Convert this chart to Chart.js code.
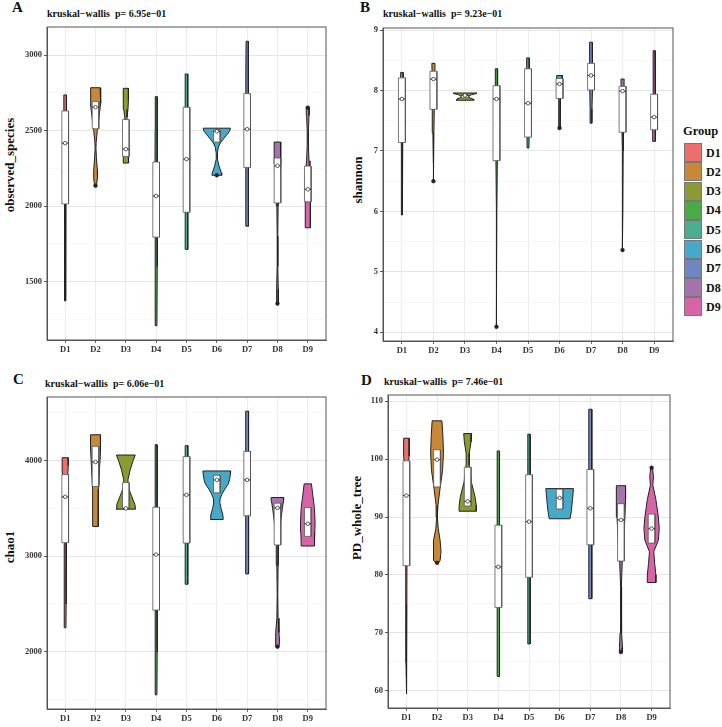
<!DOCTYPE html>
<html>
<head>
<meta charset="utf-8">
<script src="https://cdn.jsdelivr.net/npm/chart.js@4.4.1/dist/chart.umd.min.js"></script>
<style>
  body { margin: 0; background: #fff; width: 722px; height: 727px; position: relative; overflow: hidden; font-family: 'Liberation Serif', serif; color: #111; }
  canvas { position: absolute; }
  .tag { position: absolute; font-weight: bold; font-size: 15px; line-height: 1; }
  .kw { position: absolute; font-weight: bold; font-size: 10px; line-height: 1; white-space: pre; }
  .ytitle { position: absolute; font-weight: bold; font-size: 13px; line-height: 1; white-space: nowrap; transform: translate(-50%, -50%) rotate(-90deg); }
  .leg { position: absolute; font-weight: bold; line-height: 1; }
  .sw { position: absolute; width: 16px; height: 17px; border: 1px solid #777; }
</style>
</head>
<body>

<div class="tag" style="left:12px; top:0px">A</div>
<div class="tag" style="left:360px; top:0px">B</div>
<div class="tag" style="left:13px; top:372px">C</div>
<div class="tag" style="left:361px; top:373px">D</div>

<div class="kw" style="left:47px; top:9px">kruskal−wallis  p= 6.95e−01</div>
<div class="kw" style="left:383px; top:9px">kruskal−wallis  p= 9.23e−01</div>
<div class="kw" style="left:45px; top:379px">kruskal−wallis  p= 6.06e−01</div>
<div class="kw" style="left:384px; top:377px">kruskal−wallis  p= 7.46e−01</div>

<div class="ytitle" style="left:9px; top:165px">observed_species</div>
<div class="ytitle" style="left:357px; top:180px">shannon</div>
<div class="ytitle" style="left:9px; top:547px">chao1</div>
<div class="ytitle" style="left:356px; top:518px">PD_whole_tree</div>

<div id="legenda"></div>

<canvas id="cA"></canvas>
<canvas id="cB"></canvas>
<canvas id="cC"></canvas>
<canvas id="cD"></canvas>

<script>
// Gruppi e colori
const groups = ['D1', 'D2', 'D3', 'D4', 'D5', 'D6', 'D7', 'D8', 'D9'];
const colors = ['#EC6F6C', '#C98837', '#8B9A33', '#4BAA48', '#4AAE8E', '#47A9C8', '#6F87C1', '#A374AC', '#D864A8'];

// ---- A: observed_species ----
const obsQ1  = [2014, 2512, 2329, 1794, 1959, 2424, 2256, 2021, 2028];
const obsMed = [2417, 2655, 2377, 2067, 2311, 2495, 2509, 2267, 2111];
const obsQ3  = [2630, 2692, 2573, 2292, 2655, 2505, 2745, 2318, 2265];
const obsOut = [[2, 2135], [6, 2204], [8, 1354], [9, 2652]];
const obsTicks = [1500, 2000, 2500, 3000];
// profili dei violini: [valore, semi-larghezza]
const obsViolin = [
  [[2736, 0.045], [2650, 0.045], [2500, 0.035], [2300, 0.025], [2100, 0.02], [1900, 0.016], [1600, 0.014], [1372, 0.012]],
  [[2784, 0.15], [2740, 0.17], [2680, 0.17], [2600, 0.12], [2500, 0.06], [2420, 0.02], [2380, 0.015], [2320, 0.03], [2240, 0.06], [2190, 0.065], [2150, 0.04], [2135, 0.02]],
  [[2780, 0.085], [2700, 0.085], [2640, 0.07], [2590, 0.04], [2500, 0.03], [2420, 0.05], [2340, 0.085], [2285, 0.09]],
  [[2725, 0.03], [2500, 0.035], [2200, 0.04], [1900, 0.035], [1600, 0.03], [1207, 0.025]],
  [[2875, 0.04], [2600, 0.045], [2300, 0.045], [2000, 0.045], [1800, 0.04], [1713, 0.035]],
  [[2516, 0.45], [2495, 0.42], [2470, 0.32], [2440, 0.2], [2420, 0.12], [2390, 0.05], [2350, 0.02], [2310, 0.02], [2260, 0.08], [2220, 0.15], [2204, 0.16]],
  [[3092, 0.035], [2900, 0.04], [2700, 0.045], [2400, 0.045], [2100, 0.045], [1867, 0.04]],
  [[2424, 0.11], [2350, 0.11], [2280, 0.1], [2200, 0.07], [2100, 0.04], [2000, 0.02], [1800, 0.01], [1600, 0.012], [1450, 0.025], [1380, 0.03], [1354, 0.02]],
  [[2652, 0.05], [2600, 0.04], [2500, 0.02], [2400, 0.02], [2300, 0.04], [2200, 0.07], [2080, 0.09], [2000, 0.09], [1900, 0.085], [1856, 0.08]]
];

// ---- B: shannon ----
const shaQ1  = [7.14, 7.69, 7.88, 6.84, 7.23, 7.87, 8.01, 7.31, 7.35];
const shaMed = [7.86, 8.19, 7.92, 7.86, 7.79, 8.11, 8.25, 7.99, 7.56];
const shaQ3  = [8.21, 8.32, 7.93, 8.08, 8.36, 8.20, 8.45, 8.07, 7.94];
const shaOut = [[2, 6.5], [4, 4.09], [6, 7.38], [8, 5.36]];
const shaTicks = [4, 5, 6, 7, 8, 9];
const shaViolin = [
  [[8.30, 0.04], [8.0, 0.04], [7.5, 0.03], [7.0, 0.02], [6.5, 0.015], [5.94, 0.012]],
  [[8.45, 0.05], [8.2, 0.045], [7.8, 0.03], [7.3, 0.015], [6.8, 0.01], [6.5, 0.008]],
  [[7.96, 0.38], [7.95, 0.36], [7.93, 0.2], [7.905, 0.12], [7.88, 0.15], [7.86, 0.26], [7.84, 0.28]],
  [[8.36, 0.04], [8.0, 0.04], [7.5, 0.03], [7.0, 0.02], [6.0, 0.012], [5.0, 0.01], [4.09, 0.01]],
  [[8.54, 0.04], [8.2, 0.045], [7.8, 0.04], [7.4, 0.035], [7.05, 0.03]],
  [[8.25, 0.09], [8.2, 0.085], [8.1, 0.06], [7.9, 0.03], [7.6, 0.02], [7.38, 0.02]],
  [[8.80, 0.04], [8.6, 0.045], [8.3, 0.05], [8.0, 0.04], [7.7, 0.03], [7.46, 0.025]],
  [[8.19, 0.05], [8.0, 0.045], [7.5, 0.025], [7.0, 0.015], [6.0, 0.01], [5.36, 0.01]],
  [[8.66, 0.03], [8.3, 0.03], [7.9, 0.03], [7.5, 0.04], [7.3, 0.05], [7.16, 0.05]]
];

// ---- C: chao1 ----
const chaQ1  = [3141, 3729, 3496, 2435, 3137, 3663, 3423, 3117, 3207];
const chaMed = [3621, 3986, 3500, 3016, 3642, 3798, 3798, 3506, 3339];
const chaQ3  = [3854, 4150, 3770, 3513, 4042, 3847, 4097, 3555, 3510];
const chaOut = [[8, 2052]];
const chaTicks = [2000, 3000, 4000];
const chaViolin = [
  [[4031, 0.1], [3950, 0.1], [3870, 0.09], [3700, 0.05], [3400, 0.035], [3100, 0.03], [2800, 0.03], [2500, 0.03], [2250, 0.025]],
  [[4271, 0.16], [4200, 0.17], [4100, 0.16], [3900, 0.13], [3700, 0.1], [3500, 0.09], [3311, 0.09]],
  [[4059, 0.31], [4000, 0.24], [3900, 0.14], [3800, 0.07], [3720, 0.08], [3620, 0.2], [3540, 0.3], [3492, 0.32]],
  [[4167, 0.03], [3800, 0.035], [3400, 0.035], [3000, 0.035], [2500, 0.03], [2000, 0.03], [1548, 0.025]],
  [[4157, 0.045], [3900, 0.045], [3500, 0.045], [3100, 0.04], [2900, 0.04], [2706, 0.04]],
  [[3892, 0.46], [3860, 0.45], [3800, 0.42], [3757, 0.38], [3700, 0.26], [3650, 0.17], [3600, 0.11], [3560, 0.1], [3500, 0.14], [3430, 0.2], [3384, 0.21]],
  [[4518, 0.045], [4300, 0.05], [4000, 0.05], [3600, 0.05], [3200, 0.045], [2814, 0.04]],
  [[3614, 0.21], [3580, 0.2], [3500, 0.16], [3350, 0.1], [3150, 0.04], [2900, 0.02], [2600, 0.01], [2350, 0.02], [2200, 0.05], [2100, 0.07], [2052, 0.05]],
  [[3757, 0.12], [3650, 0.16], [3500, 0.22], [3350, 0.24], [3250, 0.23], [3150, 0.22], [3106, 0.22]]
];

// ---- D: PD_whole_tree ----
const pdQ1  = [81.6, 95.2, 91.9, 74.4, 79.6, 91.4, 85.2, 82.4, 85.5];
const pdMed = [93.7, 99.9, 92.7, 81.4, 89.2, 93.3, 91.5, 89.5, 88.0];
const pdQ3  = [99.7, 101.6, 98.6, 88.6, 97.3, 94.8, 98.2, 92.3, 90.5];
const pdOut = [[2, 82.1], [8, 66.7], [9, 98.5]];
const pdTicks = [60, 70, 80, 90, 100, 110];
const pdViolin = [
  [[103.6, 0.09], [100.5, 0.09], [99, 0.06], [95, 0.03], [85, 0.02], [75, 0.015], [65, 0.015], [59.5, 0.012]],
  [[106.6, 0.16], [104, 0.19], [101, 0.21], [98, 0.18], [95, 0.1], [92, 0.03], [90, 0.01], [88, 0.04], [86, 0.1], [84, 0.13], [82.5, 0.1], [82.1, 0.05]],
  [[104.4, 0.13], [103, 0.11], [101, 0.05], [99, 0.05], [96, 0.12], [93.5, 0.24], [92, 0.28], [91, 0.28]],
  [[101.4, 0.035], [95, 0.04], [88, 0.04], [80, 0.04], [72, 0.04], [65, 0.035], [62.5, 0.035]],
  [[104.3, 0.04], [100, 0.04], [92, 0.04], [85, 0.04], [78, 0.035], [72, 0.035], [68.1, 0.035]],
  [[94.9, 0.45], [93, 0.42], [91, 0.38], [89.7, 0.34]],
  [[108.6, 0.05], [104, 0.05], [98, 0.05], [90, 0.05], [83, 0.05], [79, 0.045], [75.9, 0.045]],
  [[95.4, 0.15], [93, 0.15], [90, 0.13], [86, 0.09], [82, 0.04], [78, 0.015], [74, 0.01], [70, 0.03], [67.5, 0.05], [66.7, 0.04]],
  [[98.5, 0.03], [97, 0.06], [95.5, 0.04], [93, 0.14], [90, 0.22], [88, 0.25], [86, 0.22], [84, 0.07], [82, 0.1], [80, 0.14], [78.7, 0.14]]
];

// semi-larghezza del box
const BOX = 0.11;
const fontTick = { family: 'Liberation Serif', weight: 'bold', size: 8.5 };

// Legenda (HTML)
(function () {
  const leg = document.getElementById('legenda');
  let html = '<div class="leg" style="left:683px; top:125px; font-size:12.5px">Group</div>';
  groups.forEach(function (g, i) {
    const top = 143 + i * 19.3;
    html += '<div class="sw" style="left:684px; top:' + top + 'px; background:' + colors[i] + '"></div>';
    html += '<div class="leg" style="left:706px; top:' + (top + 3.5) + 'px; font-size:12px">' + g + '</div>';
  });
  leg.innerHTML = html;
})();

// Cornice del pannello
const cornice = {
  id: 'cornice',
  afterDraw(chart) {
    const a = chart.chartArea, c = chart.ctx;
    c.save();
    c.strokeStyle = '#555';
    c.lineWidth = 1;
    c.strokeRect(a.left, a.top, a.right - a.left, a.bottom - a.top);
    c.restore();
  }
};

function creaPannello(id, box, q1, med, q3, violini, outlier, ticks) {
  const canvas = document.getElementById(id);
  canvas.width = box.w;
  canvas.height = box.h;
  canvas.style.left = box.left + 'px';
  canvas.style.top = box.top + 'px';
  canvas.style.width = box.w + 'px';
  canvas.style.height = box.h + 'px';

  // Limiti asse y: range dei dati espanso del 5%
  let lo = Infinity, hi = -Infinity;
  violini.forEach(function (p) { p.forEach(function (r) { lo = Math.min(lo, r[0]); hi = Math.max(hi, r[0]); }); });
  const pad = (hi - lo) * 0.05;
  const yMin = lo - pad, yMax = hi + pad;

  // Tick maggiori e minori (a metà)
  const step = ticks[1] - ticks[0];
  const tutti = [];
  for (let v = ticks[0] - step / 2; v <= ticks[ticks.length - 1] + step / 2 + 1e-9; v += step / 2) {
    if (v >= yMin && v <= yMax) {
      const minore = ticks.indexOf(Math.round(v * 1000) / 1000) < 0;
      tutti.push({ value: v, minor: minore });
    }
  }

  const datasets = [];
  // Violini
  violini.forEach(function (prof, i) {
    const gx = i + 1;
    const destra = prof.map(function (r) { return { x: gx + r[1], y: r[0] }; });
    const sinistra = prof.slice().reverse().map(function (r) { return { x: gx - r[1], y: r[0] }; });
    datasets.push({
      data: destra.concat(sinistra, [destra[0]]),
      showLine: true, fill: 'shape', tension: 0,
      backgroundColor: colors[i], borderColor: '#222', borderWidth: 1,
      pointRadius: 0, order: 5
    });
  });
  // Box
  q1.forEach(function (v1, i) {
    const gx = i + 1, v3 = q3[i];
    datasets.push({
      data: [{ x: gx - BOX, y: v3 }, { x: gx + BOX, y: v3 }, { x: gx + BOX, y: v1 }, { x: gx - BOX, y: v1 }, { x: gx - BOX, y: v3 }],
      showLine: true, fill: 'shape', tension: 0,
      backgroundColor: '#ffffff', borderColor: '#555', borderWidth: 0.8,
      pointRadius: 0, order: 4
    });
    // linea della mediana
    datasets.push({
      data: [{ x: gx - BOX, y: med[i] }, { x: gx + BOX, y: med[i] }],
      showLine: true, fill: false, borderColor: '#333', borderWidth: 1,
      pointRadius: 0, order: 3
    });
  });
  // Punto della mediana
  datasets.push({
    data: med.map(function (m, i) { return { x: i + 1, y: m }; }),
    showLine: false, pointRadius: 1.8, pointBackgroundColor: '#fff',
    pointBorderColor: '#333', pointBorderWidth: 0.8, order: 2
  });
  // Outlier
  datasets.push({
    data: outlier.map(function (o) { return { x: o[0], y: o[1] }; }),
    showLine: false, pointRadius: 1.9, pointBackgroundColor: '#222',
    pointBorderColor: '#222', pointBorderWidth: 0.5, order: 1
  });

  return new Chart(canvas, {
    type: 'line',
    data: { datasets: datasets },
    options: {
      responsive: false,
      animation: false,
      events: [],
      layout: { padding: { top: box.pTop, right: box.w - box.pRight, bottom: 0, left: 0 } },
      plugins: { legend: { display: false }, tooltip: { enabled: false } },
      scales: {
        x: {
          type: 'linear', min: 0.4, max: 9.6,
          afterBuildTicks: function (scale) { scale.ticks = groups.map(function (g, i) { return { value: i + 1 }; }); },
          afterFit: function (scale) { scale.height = box.h - box.pBottom; },
          ticks: {
            autoSkip: false, maxRotation: 0, padding: 2, color: '#333', font: fontTick,
            callback: function (v) { return groups[v - 1]; }
          },
          grid: { color: '#E6E6E6', lineWidth: 0.8, tickLength: 3, tickColor: '#444' },
          border: { display: true, color: '#555', width: 1 }
        },
        y: {
          type: 'linear', min: yMin, max: yMax,
          afterBuildTicks: function (scale) { scale.ticks = tutti.map(function (t) { return { value: t.value, minor: t.minor }; }); },
          afterFit: function (scale) { scale.width = box.pLeft; },
          ticks: {
            padding: 2, color: '#333', font: fontTick,
            callback: function (v, i, arr) { return arr[i].minor ? '' : String(v); }
          },
          grid: {
            tickLength: 3,
            color: function (ctx) { return ctx.tick && ctx.tick.minor ? '#F3F3F3' : '#E3E3E3'; },
            lineWidth: function (ctx) { return ctx.tick && ctx.tick.minor ? 0.6 : 0.9; },
            tickColor: function (ctx) { return ctx.tick && ctx.tick.minor ? 'rgba(0,0,0,0)' : '#444'; }
          },
          border: { display: true, color: '#555', width: 1 }
        }
      }
    },
    plugins: [cornice]
  });
}

// Posizioni dei pannelli (canvas e area del grafico in coordinate locali)
creaPannello('cA', { left: 0, top: 0, w: 345, h: 362, pLeft: 47, pTop: 27, pRight: 326, pBottom: 340 },
  obsQ1, obsMed, obsQ3, obsViolin, obsOut, obsTicks);
creaPannello('cB', { left: 345, top: 0, w: 377, h: 362, pLeft: 38, pTop: 28, pRight: 328, pBottom: 341 },
  shaQ1, shaMed, shaQ3, shaViolin, shaOut, shaTicks);
creaPannello('cC', { left: 0, top: 362, w: 345, h: 365, pLeft: 47, pTop: 35, pRight: 326, pBottom: 347 },
  chaQ1, chaMed, chaQ3, chaViolin, chaOut, chaTicks);
creaPannello('cD', { left: 345, top: 362, w: 377, h: 365, pLeft: 43, pTop: 33, pRight: 325, pBottom: 346 },
  pdQ1, pdMed, pdQ3, pdViolin, pdOut, pdTicks);
</script>
</body>
</html>
